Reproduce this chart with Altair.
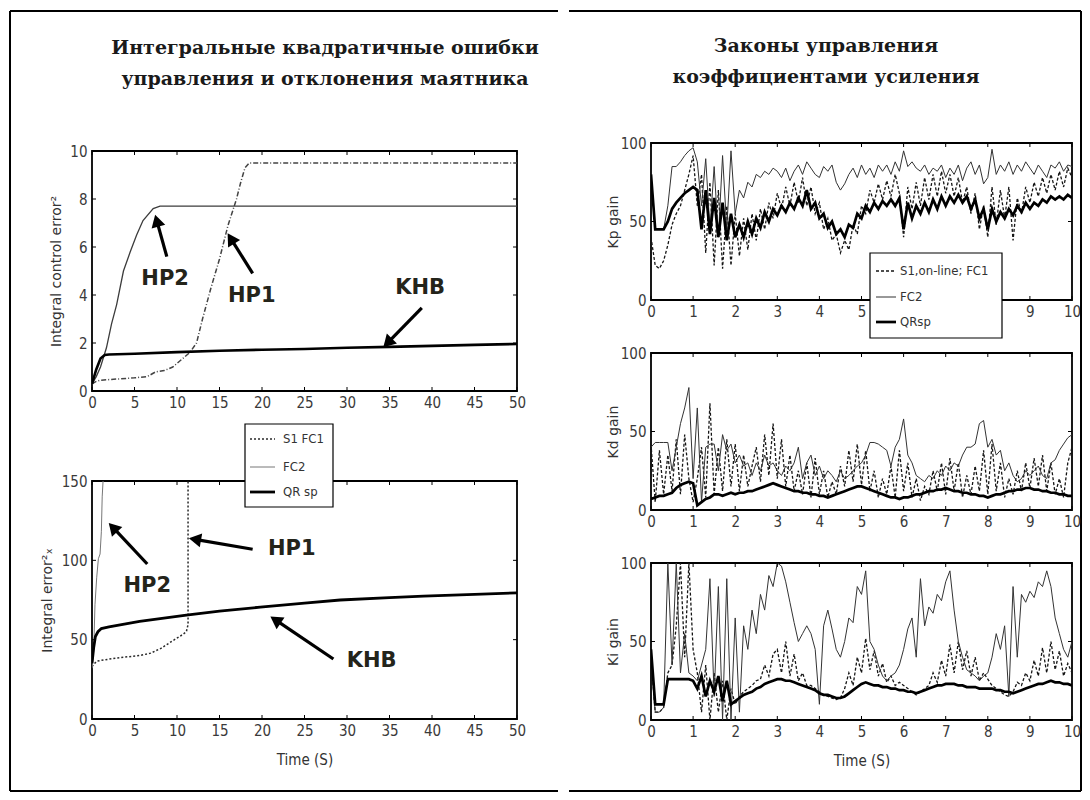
import math
import altair as alt
import pandas as pd

# ---------------- texts ----------------
LEFT_TITLE = ["Интегральные квадратичные ошибки", "управления и отклонения маятника"]
RIGHT_TITLE = ["Законы управления", "коэффициентами усиления"]
LEGEND_LEFT = ["S1 FC1", "FC2", "QR sp"]
LEGEND_RIGHT = ["S1,on-line; FC1", "FC2", "QRsp"]
Y_TITLES = ["Integral control error²", "Integral error²ₓ", "Kp gain", "Kd gain", "Ki gain"]
X_TITLE = "Time (S)"

# ---------------- ticks ----------------
LEFT_X_TICKS = [0, 5, 10, 15, 20, 25, 30, 35, 40, 45, 50]
TL_Y_TICKS = [0, 2, 4, 6, 8, 10]
BL_Y_TICKS = [0, 50, 100, 150]
R_X_TICKS = [0, 1, 2, 3, 4, 5, 6, 7, 8, 9, 10]
R1_X_LABELS = [0, 1, 2, 3, 4, 5, 9, 10]   # 6, 7, 8 are hidden behind the legend box
R_Y_TICKS = [0, 50, 100]

# ---------------- top-left: integral control error^2 ----------------
ICE_S1_T = [0, 0.5, 1, 3, 5, 6.5, 7.5, 8.5, 9.5, 10.5, 11.5, 12.3, 13, 14, 15, 16, 17, 17.5, 18, 18.5, 50]
ICE_S1_V = [0.3, 0.4, 0.45, 0.5, 0.55, 0.6, 0.8, 0.85, 1.0, 1.3, 1.6, 2.0, 3.0, 4.3, 5.5, 6.9, 8.0, 8.7, 9.3, 9.5, 9.5]
ICE_FC2_T = [0, 0.5, 1, 1.7, 2.3, 2.9, 3.7, 4.5, 5.25, 6, 7.2, 8, 50]
ICE_FC2_V = [0.3, 0.6, 1.0, 1.8, 2.8, 3.6, 5.0, 5.8, 6.5, 7.1, 7.6, 7.7, 7.7]
ICE_QR_T = [0, 0.5, 1, 1.5, 2, 5, 10, 15, 20, 25, 30, 35, 40, 45, 50]
ICE_QR_V = [0.3, 0.9, 1.35, 1.5, 1.52, 1.55, 1.62, 1.68, 1.72, 1.75, 1.8, 1.84, 1.88, 1.92, 1.96]

# ---------------- bottom-left: integral error_x^2 ----------------
IEX_S1_T = [0, 0.3, 0.6, 1.1, 3, 5.6, 6.9, 8.1, 9.4, 10.6, 11.1, 11.3, 11.3]
IEX_S1_V = [33, 35, 36.5, 37, 38.5, 40, 41.5, 44.5, 49, 53, 55, 59.5, 150]
IEX_FC2_T = [0, 0.2, 0.35, 0.55, 0.75, 0.95, 1.1, 1.2, 1.3]
IEX_FC2_V = [32, 43, 72, 89, 101, 104, 118, 140, 150]
IEX_QR_T = [0, 0.2, 0.4, 0.7, 1.1, 2, 5.6, 11.1, 15, 19.8, 25, 29.2, 35, 39, 45, 50]
IEX_QR_V = [35, 45, 52, 55, 57, 58, 61.5, 65.5, 68, 70.5, 73, 75, 76.5, 77.5, 78.5, 79.5]

# ---------------- right: gains, sampled every 0.1 s ----------------
T_GAIN = [round(k * 0.1, 1) for k in range(101)]

KP_S1 = [40, 22, 20, 25, 35, 48, 55, 60, 70, 80, 92, 60, 80, 30, 75, 22, 70, 20, 60, 22,
         55, 28, 52, 32, 55, 38, 58, 45, 62, 52, 68, 58, 72, 60, 75, 62, 78, 60, 72, 55,
         62, 45, 52, 38, 42, 30, 38, 32, 48, 42, 60, 55, 70, 62, 74, 64, 76, 66, 80, 68,
         40, 72, 58, 75, 60, 78, 64, 80, 66, 82, 68, 80, 66, 78, 62, 72, 55, 68, 45, 60,
         40, 72, 48, 70, 52, 72, 38, 65, 55, 72, 62, 75, 66, 78, 68, 80, 70, 82, 72, 84, 78]
KP_FC2 = [80, 45, 45, 45, 60, 85, 85, 88, 92, 95, 97, 88, 60, 90, 45, 85, 40, 92, 45, 95,
          55, 70, 65, 75, 72, 80, 78, 82, 80, 84, 82, 78, 84, 76, 82, 86, 80, 88, 84, 80,
          78, 85, 82, 86, 75, 70, 74, 80, 84, 78, 86, 80, 84, 78, 86, 82, 86, 80, 88, 82,
          95, 85, 88, 84, 82, 86, 80, 84, 82, 86, 78, 84, 80, 86, 76, 84, 88, 80, 86, 74,
          78, 96, 80, 86, 82, 88, 80, 86, 82, 88, 84, 80, 86, 82, 78, 86, 84, 88, 82, 86, 85]
KP_QR = [80, 45, 45, 45, 50, 58, 62, 65, 68, 70, 72, 70, 45, 70, 42, 65, 40, 62, 38, 55,
         40, 48, 40, 50, 42, 52, 46, 56, 50, 58, 54, 60, 56, 62, 58, 65, 60, 70, 58, 62,
         52, 55, 46, 50, 42, 45, 40, 48, 46, 55, 52, 60, 56, 62, 58, 63, 60, 64, 60, 65,
         45, 62, 52, 60, 55, 62, 56, 64, 58, 66, 60, 66, 62, 67, 62, 66, 58, 64, 52, 58,
         45, 58, 50, 56, 52, 58, 54, 60, 56, 62, 58, 62, 60, 64, 62, 66, 64, 66, 64, 67, 65]

KD_S1 = [42, 5, 38, 10, 35, 12, 45, 10, 48, 20, 5, 20, 40, 8, 68, 10, 40, 12, 45, 15,
         42, 12, 35, 15, 28, 40, 18, 48, 22, 55, 20, 45, 15, 35, 12, 25, 10, 30, 8, 33,
         10, 25, 8, 18, 10, 28, 15, 38, 18, 42, 16, 38, 12, 25, 8, 20, 10, 28, 8, 38,
         12, 30, 8, 20, 6, 15, 10, 25, 12, 30, 10, 33, 12, 30, 8, 22, 10, 28, 12, 38,
         10, 42, 12, 30, 8, 20, 10, 25, 12, 30, 14, 33, 15, 35, 12, 30, 10, 20, 8, 30, 40]
KD_FC2 = [40, 43, 43, 43, 43, 25, 40, 55, 65, 78, 20, 65, 5, 40, 42, 42, 25, 48, 38, 42,
          30, 35, 28, 30, 22, 30, 25, 35, 28, 30, 25, 22, 28, 25, 30, 40, 20, 30, 35, 22,
          28, 20, 25, 22, 18, 25, 20, 22, 25, 28, 30, 35, 43, 43, 42, 40, 38, 28, 40, 45,
          58, 35, 30, 22, 20, 18, 22, 20, 25, 22, 28, 25, 30, 28, 35, 40, 40, 42, 55, 57,
          40, 45, 35, 38, 25, 30, 22, 18, 20, 25, 22, 25, 28, 22, 20, 30, 32, 38, 42, 46, 48]
KD_QR = [7, 8, 9, 9, 10, 11, 14, 16, 17, 18, 17, 3, 5, 7, 8, 10, 10, 9, 10, 11,
         10, 11, 11, 12, 12, 13, 14, 15, 16, 17, 16, 15, 14, 13, 12, 12, 11, 11, 10, 10,
         9, 9, 8, 9, 10, 11, 12, 13, 14, 15, 15, 14, 13, 12, 11, 10, 9, 8, 8, 7,
         8, 8, 9, 10, 10, 11, 12, 12, 13, 13, 14, 13, 12, 12, 11, 11, 10, 10, 9, 9,
         8, 9, 10, 10, 11, 12, 12, 13, 13, 14, 14, 13, 13, 12, 12, 11, 11, 10, 10, 9, 9]

KI_S1 = [40, 5, 5, 8, 30, 35, 60, 100, 40, 100, 45, 30, 5, 35, 0, 30, 5, 25, 0, 20,
         10, 15, 18, 20, 22, 25, 26, 35, 28, 42, 45, 30, 50, 28, 42, 25, 30, 22, 22, 20,
         18, 16, 15, 14, 13, 14, 20, 30, 22, 40, 30, 52, 32, 44, 28, 36, 24, 28, 22, 24,
         22, 20, 18, 16, 18, 20, 22, 30, 24, 38, 28, 48, 30, 50, 32, 44, 28, 40, 25, 30,
         26, 22, 20, 18, 16, 15, 18, 24, 22, 30, 25, 38, 28, 46, 30, 50, 32, 44, 28, 36, 30]
KI_FC2 = [40, 5, 5, 8, 100, 35, 100, 30, 55, 30, 28, 25, 35, 45, 90, 15, 85, 0, 90, 0,
          65, 5, 60, 45, 70, 55, 80, 70, 92, 85, 100, 98, 88, 75, 62, 50, 55, 60, 55, 45,
          10, 60, 70, 58, 45, 40, 50, 65, 62, 85, 80, 95, 50, 45, 35, 28, 25, 28, 30, 35,
          45, 58, 65, 40, 90, 60, 72, 68, 80, 76, 88, 95, 70, 50, 40, 32, 30, 28, 25, 28,
          30, 40, 55, 45, 60, 15, 85, 40, 80, 75, 82, 78, 88, 85, 95, 85, 65, 55, 45, 40, 50]
KI_QR = [45, 10, 10, 10, 26, 26, 26, 26, 26, 26, 25, 20, 28, 15, 25, 18, 28, 12, 25, 10,
         12, 14, 16, 17, 18, 20, 21, 23, 24, 25, 26, 26, 25, 25, 24, 23, 22, 21, 20, 19,
         17, 16, 16, 15, 14, 14, 15, 17, 19, 21, 23, 24, 23, 22, 22, 21, 21, 20, 20, 19,
         19, 18, 18, 17, 18, 19, 20, 21, 22, 22, 23, 23, 23, 22, 22, 21, 21, 21, 20, 20,
         20, 20, 19, 19, 18, 18, 17, 18, 19, 20, 21, 22, 23, 23, 24, 25, 24, 24, 23, 23, 22]

# ---------------- annotations (data units) ----------------
ANN_LABELS = ["HP2", "HP1", "KHB"]
TL_TEXT_X = [8.6, 18.8, 38.6]
TL_TEXT_Y = [4.67, 3.96, 4.29]
TL_ARROW_X1 = [8.8, 18.9, 38.8]
TL_ARROW_Y1 = [5.6, 4.9, 3.46]
TL_ARROW_X2 = [7.4, 15.9, 34.2]
TL_ARROW_Y2 = [7.38, 6.6, 1.8]
BL_TEXT_X = [6.5, 23.5, 32.9]
BL_TEXT_Y = [83.8, 107, 36.5]
BL_ARROW_X1 = [6.5, 18.9, 28.4]
BL_ARROW_Y1 = [97.7, 107, 37.8]
BL_ARROW_X2 = [1.9, 11.3, 20.9]
BL_ARROW_Y2 = [124, 114, 64.9]

# ---------------- styles ----------------
LF = "Liberation Sans Narrow, DejaVu Sans Condensed, Arial Narrow, sans-serif"
STY_TL = [dict(color="#444444", strokeWidth=1.5, strokeDash=[5, 2, 1, 2]),
          dict(color="#3c3c3c", strokeWidth=1.3),
          dict(color="#000000", strokeWidth=2.6)]
STY_BL = [dict(color="#2a2a2a", strokeWidth=1.5, strokeDash=[2, 2]),
          dict(color="#777777", strokeWidth=1.0),
          dict(color="#000000", strokeWidth=2.8)]
STY_R = [dict(color="#151515", strokeWidth=1.3, strokeDash=[3, 2]),
         dict(color="#333333", strokeWidth=1.0),
         dict(color="#000000", strokeWidth=2.7)]
ONE = pd.DataFrame({"k": [0]})
TITLE_FONT = dict(font="DejaVu Serif", fontWeight="bold", fontSize=19, color="#1a1a1a",
                  align="center", baseline="middle")


def frame_rule(x, y, x2=None, y2=None, color="black"):
    enc = dict(x=alt.value(x), y=alt.value(y))
    if x2 is not None:
        enc["x2"] = alt.value(x2)
    if y2 is not None:
        enc["y2"] = alt.value(y2)
    return alt.Chart(ONE).mark_rule(color=color, strokeWidth=2, clip=False).encode(**enc)


def title_text(x, y, s):
    return alt.Chart(ONE).mark_text(**TITLE_FONT).encode(x=alt.value(x), y=alt.value(y), text=alt.value(s))


def line_df(ts, vs):
    return pd.DataFrame({"t": ts, "v": vs, "i": list(range(len(ts)))})


def make_panel(W, H, xdom, ydom, xticks, yticks, series, styles, ytitle, ytitle_x,
               xtitle="", ann=None, legend=None, extra=(), xlabels=None):
    xs = alt.Scale(domain=xdom, nice=False, zero=False)
    ys = alt.Scale(domain=ydom, nice=False, zero=False)
    xaxis = alt.Axis(values=xlabels if xlabels is not None else xticks, format="d", ticks=False,
                     domain=False, grid=False,
                     labelFlush=False, labelOverlap=False, labelBound=False, labelFont=LF,
                     labelFontSize=15, labelColor="#3a3a3a", labelPadding=4,
                     titleFont=LF, titleFontSize=15, titleFontWeight="normal", titleColor="#333333",
                     titleX=W / 2, titleY=40, titleAlign="center", titleBaseline="middle")
    yaxis = alt.Axis(values=yticks, format="d", ticks=False, domain=False, grid=False,
                     labelFlush=False, labelOverlap=False, labelBound=False, labelFont=LF,
                     labelFontSize=15, labelColor="#3a3a3a", labelPadding=5,
                     titleFont="DejaVu Sans", titleFontSize=14, titleFontWeight="normal",
                     titleColor="#333333", titleAngle=270, titleX=ytitle_x, titleY=H / 2,
                     titleAlign="center", titleBaseline="middle")
    X = alt.X("t:Q", scale=xs, axis=xaxis, title=xtitle)
    Y = alt.Y("v:Q", scale=ys, axis=yaxis, title=ytitle)

    layers = []
    for (ts, vs), st in zip(series, styles):
        layers.append(alt.Chart(line_df(ts, vs)).mark_line(clip=True, **st)
                      .encode(x=X, y=Y, order="i:Q"))

    # inward MATLAB-style ticks on all four sides
    xt = pd.DataFrame({"t": xticks})
    yt = pd.DataFrame({"v": yticks})
    layers.append(alt.Chart(xt).mark_rule(color="black", strokeWidth=1)
                  .encode(x=X, y=alt.value(H), y2=alt.value(H - 4)))
    layers.append(alt.Chart(xt).mark_rule(color="black", strokeWidth=1)
                  .encode(x=X, y=alt.value(0), y2=alt.value(4)))
    layers.append(alt.Chart(yt).mark_rule(color="black", strokeWidth=1)
                  .encode(y=Y, x=alt.value(0), x2=alt.value(4)))
    layers.append(alt.Chart(yt).mark_rule(color="black", strokeWidth=1)
                  .encode(y=Y, x=alt.value(W), x2=alt.value(W - 4)))

    if ann is not None:
        sx = W / (xdom[1] - xdom[0])
        sy = H / (ydom[1] - ydom[0])
        rows, heads = [], []
        for x1, y1, x2, y2 in zip(ann["x1"], ann["y1"], ann["x2"], ann["y2"]):
            dxp = (x2 - x1) * sx
            dyp = -(y2 - y1) * sy
            L = math.hypot(dxp, dyp)
            ux, uy = dxp / L, dyp / L
            back = 7
            cx = x2 - ux * back / sx
            cy = y2 + uy * back / sy
            ang = math.degrees(math.atan2(dxp, -dyp)) % 360
            rows.append({"t": x1, "v": y1, "t2": cx, "v2": cy})
            heads.append({"t": cx, "v": cy, "ang": ang})
        layers.append(alt.Chart(pd.DataFrame(rows)).mark_rule(color="black", strokeWidth=3.2)
                      .encode(x=X, y=Y, x2="t2:Q", y2="v2:Q"))
        layers.append(alt.Chart(pd.DataFrame(heads))
                      .mark_point(shape="triangle-up", filled=True, size=200, color="black", opacity=1)
                      .encode(x=X, y=Y, angle=alt.Angle("ang:Q", scale=None)))
        tdf = pd.DataFrame({"t": ann["tx"], "v": ann["ty"], "lab": ann["labels"]})
        layers.append(alt.Chart(tdf).mark_text(font="DejaVu Sans", fontWeight="bold", fontSize=21,
                                               color="#24241a", align="center", baseline="middle")
                      .encode(x=X, y=Y, text="lab:N"))

    if legend is not None:
        x0, y0, x1, y1 = legend["box"]
        layers.append(alt.Chart(ONE).mark_rect(fill="white", stroke="black", strokeWidth=1.2, clip=False)
                      .encode(x=alt.value(x0), x2=alt.value(x1), y=alt.value(y0), y2=alt.value(y1)))
        for lab, ry, st in zip(legend["labels"], legend["rows"], styles):
            layers.append(alt.Chart(ONE).mark_rule(clip=False, **st)
                          .encode(x=alt.value(legend["sx"][0]), x2=alt.value(legend["sx"][1]),
                                  y=alt.value(ry)))
            layers.append(alt.Chart(ONE).mark_text(font=LF, fontSize=13, color="#333333",
                                                   align="left", baseline="middle")
                          .encode(x=alt.value(legend["tx"]), y=alt.value(ry), text=alt.value(lab)))

    layers.extend(extra)
    return alt.layer(*layers).properties(
        width=W, height=H, view=alt.ViewBackground(stroke="black", strokeWidth=1.8))


# outer frame, split between the two columns; the pieces also fix the column gap
# left column origin = canvas (92, 142); right column origin = canvas (650, 142)
FRAME_TOP, FRAME_BOTTOM = -132, 648
left_frame = [
    frame_rule(-82, FRAME_TOP, y2=FRAME_BOTTOM),
    frame_rule(-82, FRAME_TOP, x2=466),
    frame_rule(-82, FRAME_BOTTOM, x2=466),
    title_text(233, -95, LEFT_TITLE[0]),
    title_text(233, -64, LEFT_TITLE[1]),
]
right_frame = [
    frame_rule(430, FRAME_TOP, y2=FRAME_BOTTOM),
    frame_rule(-82, FRAME_TOP, x2=430),
    frame_rule(-82, FRAME_BOTTOM, x2=430),
    title_text(175, -97, RIGHT_TITLE[0]),
    title_text(175, -66, RIGHT_TITLE[1]),
]

p1 = make_panel(425, 240, [0, 50], [0, 10], LEFT_X_TICKS, TL_Y_TICKS,
                [(ICE_S1_T, ICE_S1_V), (ICE_FC2_T, ICE_FC2_V), (ICE_QR_T, ICE_QR_V)],
                STY_TL, Y_TITLES[0], -36,
                ann=dict(x1=TL_ARROW_X1, y1=TL_ARROW_Y1, x2=TL_ARROW_X2, y2=TL_ARROW_Y2,
                         tx=TL_TEXT_X, ty=TL_TEXT_Y, labels=ANN_LABELS))
p2 = make_panel(425, 238, [0, 50], [0, 150], LEFT_X_TICKS, BL_Y_TICKS,
                [(IEX_S1_T, IEX_S1_V), (IEX_FC2_T, IEX_FC2_V), (IEX_QR_T, IEX_QR_V)],
                STY_BL, Y_TITLES[1], -45, xtitle=X_TITLE,
                ann=dict(x1=BL_ARROW_X1, y1=BL_ARROW_Y1, x2=BL_ARROW_X2, y2=BL_ARROW_Y2,
                         tx=BL_TEXT_X, ty=BL_TEXT_Y, labels=ANN_LABELS),
                legend=dict(box=(153, -57, 241, 26), rows=[-42, -14, 11], sx=(158, 183), tx=191,
                            labels=LEGEND_LEFT))

RW, RH = 421, 157
r1 = make_panel(RW, RH, [0, 10], [0, 100], R_X_TICKS, R_Y_TICKS,
                [(T_GAIN, KP_S1), (T_GAIN, KP_FC2), (T_GAIN, KP_QR)],
                STY_R, Y_TITLES[2], -38,
                legend=dict(box=(219, 110, 351, 195), rows=[128, 154, 179], sx=(225, 245), tx=249,
                            labels=LEGEND_RIGHT),
                extra=right_frame, xlabels=R1_X_LABELS)
r2 = make_panel(RW, RH, [0, 10], [0, 100], R_X_TICKS, R_Y_TICKS,
                [(T_GAIN, KD_S1), (T_GAIN, KD_FC2), (T_GAIN, KD_QR)],
                STY_R, Y_TITLES[3], -38)
r3 = make_panel(RW, RH, [0, 10], [0, 100], R_X_TICKS, R_Y_TICKS,
                [(T_GAIN, KI_S1), (T_GAIN, KI_FC2), (T_GAIN, KI_QR)],
                STY_R, Y_TITLES[4], -38, xtitle=X_TITLE)

spacer = alt.layer(*left_frame).properties(width=425, height=8)

left_inner = alt.vconcat(p1, p2, spacing=90, bounds="flush").resolve_scale(x="independent", y="independent")
left = alt.vconcat(spacer, left_inner, spacing=0, bounds="flush").resolve_scale(x="independent", y="independent")
right = alt.vconcat(r1, r2, r3, spacing=53, bounds="flush").resolve_scale(x="independent", y="independent")

chart = (alt.hconcat(left, right, spacing=8)
         .resolve_scale(x="independent", y="independent")
         .properties(padding={"left": 9, "top": 9, "right": 4, "bottom": 4}, background="white")
         .configure_view(strokeWidth=0))

chart.save("out.html", embed_options={"renderer": "svg", "actions": False})
